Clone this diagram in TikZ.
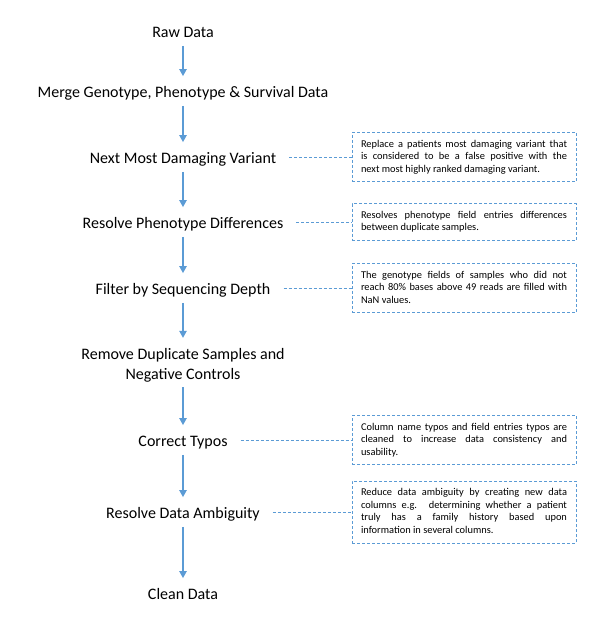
\documentclass[tikz,border=0pt]{standalone}
\usepackage{fontspec}
\setmainfont{Carlito}
\usepackage{tikz}
\usetikzlibrary{arrows.meta,positioning}

\definecolor{flowblue}{HTML}{5B9BD5}

\begin{document}
\begin{tikzpicture}[x=1pt,y=-1pt]

  % Parameters
  \def\xmain{183}
  \def\xnote{464}
  \def\wnote{206pt}

  % Styles
  \tikzstyle{stage}=[font=\fontsize{16}{19.5}\selectfont,align=center,text height=13.5pt,text depth=1pt,inner xsep=0pt,inner ysep=7.5pt]
  \tikzstyle{note}=[draw=flowblue,densely dashed,line width=0.8pt,font=\fontsize{10.4}{12.5}\selectfont,text width=\wnote,align=justify,inner xsep=9pt,inner ysep=6pt]
  \tikzstyle{flow}=[draw=flowblue,line width=1.2pt,-{Triangle[width=7.5pt,length=7pt]}]
  \tikzstyle{link}=[draw=flowblue,densely dashed,line width=0.8pt,shorten <=13pt]

  % Bounding box
  \useasboundingbox (0,0) rectangle (607,638);

  % ===========================================================================

  % Draw stages
  \node[stage] (raw)      at (\xmain,31)  {Raw Data};
  \node[stage] (merge)    at (\xmain,91)  {Merge Genotype, Phenotype \& Survival Data};
  \node[stage] (variant)  at (\xmain,157) {Next Most Damaging Variant};
  \node[stage] (pheno)    at (\xmain,222) {Resolve Phenotype Differences};
  \node[stage] (depth)    at (\xmain,288) {Filter by Sequencing Depth};
  \node[stage,text height={},text depth={},inner ysep=0pt,minimum height=49pt] (dupl) at (\xmain,362.5) {\rule{0pt}{17pt}Remove Duplicate Samples and\\Negative Controls};
  \node[stage] (typos)    at (\xmain,440) {Correct Typos};
  \node[stage] (ambig)    at (\xmain,512) {Resolve Data Ambiguity};
  \node[stage] (clean)    at (\xmain,593) {Clean Data};

  % Draw notes
  \node[note] (variant-note) at (\xnote,157) {\strut Replace a patients most damaging variant that\linebreak is considered to be a false positive with the\linebreak next most highly ranked damaging variant.\strut};
  \node[note] (pheno-note) at (\xnote,222) {\strut Resolves phenotype field entries differences\linebreak between duplicate samples.\strut};
  \node[note] (depth-note) at (\xnote,288) {\strut The genotype fields of samples who did not\linebreak reach 80\% bases above 49 reads are filled with\linebreak NaN values.\strut};
  \node[note] (typos-note) at (\xnote,440) {\strut Column name typos and field entries typos are\linebreak cleaned to increase data consistency and\linebreak usability.\strut};
  \node[note] (ambig-note) at (\xnote,512) {\strut Reduce data ambiguity by creating new data\linebreak columns e.g. determining whether a patient\linebreak truly has a family history based upon\linebreak information in several columns.\strut};

  % Draw flow
  \foreach \a/\b in {raw/merge,merge/variant,variant/pheno,pheno/depth,depth/dupl,dupl/typos,typos/ambig,ambig/clean}
    \draw[flow] (\a.south) -- (\b.north);

  % Draw links
  \foreach \n in {variant,pheno,depth,typos,ambig}
    \draw[link] (\n.east) -- (\n-note.west);

\end{tikzpicture}
\end{document}
